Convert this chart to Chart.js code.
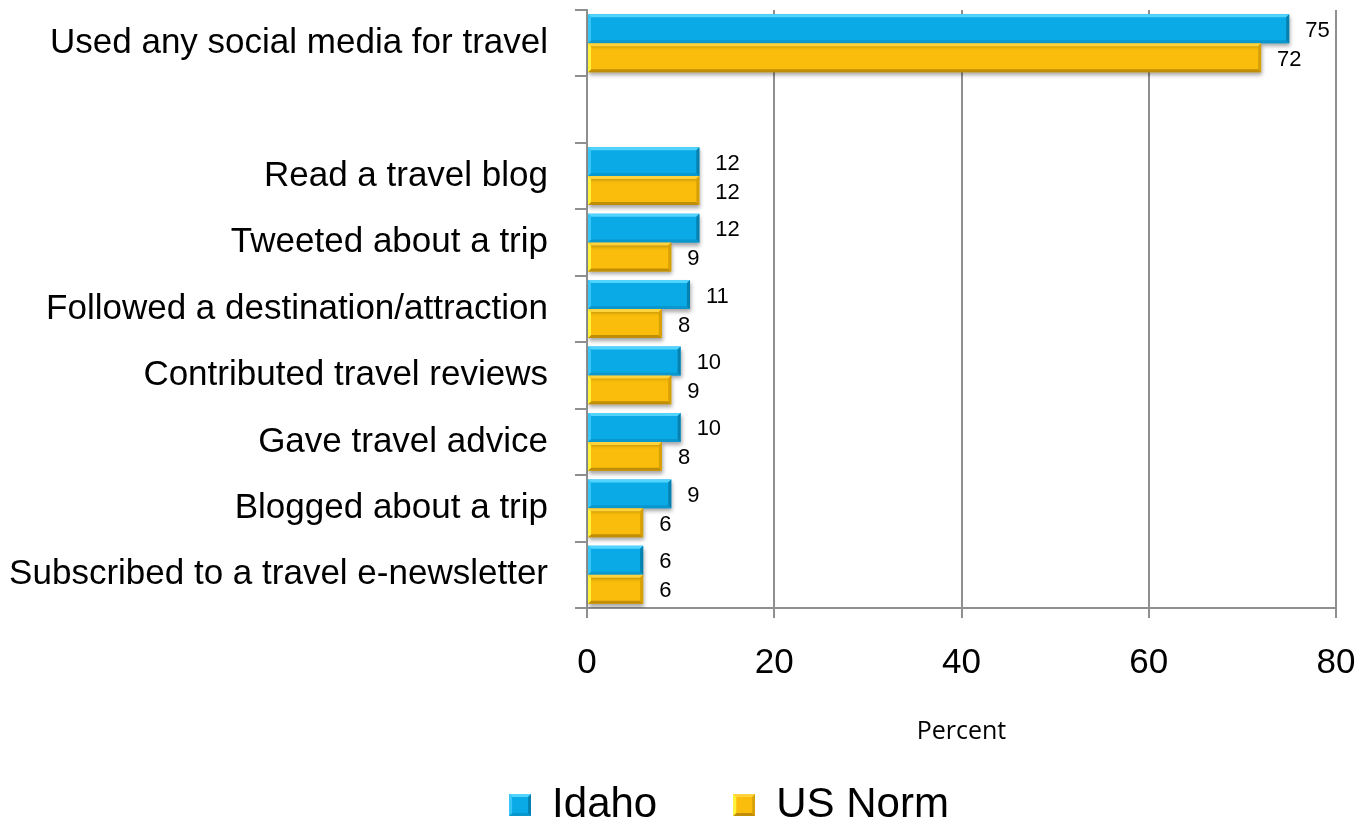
<!DOCTYPE html>
<html>
<head>
<meta charset="utf-8">
<title>Social media use for travel</title>
<script src="https://cdn.jsdelivr.net/npm/chart.js@4/dist/chart.umd.min.js"></script>
<style>
  html, body { margin: 0; padding: 0; background: #ffffff; }
  #wrap { width: 1364px; height: 826px; }
</style>
</head>
<body>
<div id="wrap"><canvas id="chart" width="1364" height="826"></canvas></div>
<script>
// Survey categories (the empty entry leaves a gap under the headline row)
const categories = [
  'Used any social media for travel',
  '',
  'Read a travel blog',
  'Tweeted about a trip',
  'Followed a destination/attraction',
  'Contributed travel reviews',
  'Gave travel advice',
  'Blogged about a trip',
  'Subscribed to a travel e-newsletter'
];
const idahoValues  = [75, null, 12, 12, 11, 10, 10, 9, 6];
const usNormValues = [72, null, 12,  9,  8,  9,  8, 6, 6];
const seriesNames  = ['Idaho', 'US Norm'];
const percentTicks = [0, 20, 40, 60, 80];

const FONT = "'Liberation Sans', Arial, sans-serif";
const GRID = '#8f8f8f';

// Bevel shades per series
const shades = [
  { body: '#0AAAE6', top: '#52D4FF', left: '#38C6F6', right: '#0680AF', bottom: '#0A97CE' },
  { body: '#FABD0B', top: '#FFD33C', left: '#FFF23A', right: '#D6A006', bottom: '#BF8D06' }
];

function poly(ctx, color, pts) {
  ctx.fillStyle = color;
  ctx.beginPath();
  ctx.moveTo(pts[0][0], pts[0][1]);
  for (let i = 1; i < pts.length; i++) ctx.lineTo(pts[i][0], pts[i][1]);
  ctx.closePath();
  ctx.fill();
}

function bevelEdges(ctx, l, t, r, b, c, bw) {
  poly(ctx, c.top,    [[l, t], [r, t], [r - bw, t + bw], [l + bw, t + bw]]);
  poly(ctx, c.bottom, [[l, b], [r, b], [r - bw, b - bw], [l + bw, b - bw]]);
  poly(ctx, c.left,   [[l, t], [l + bw, t + bw], [l + bw, b - bw], [l, b]]);
  poly(ctx, c.right,  [[r, t], [r - bw, t + bw], [r - bw, b - bw], [r, b]]);
}

// Small bevelled squares used as legend swatches
function makeSwatch(c) {
  const s = 22;
  const cv = document.createElement('canvas');
  cv.width = s; cv.height = s;
  const ctx = cv.getContext('2d');
  ctx.fillStyle = c.body;
  ctx.fillRect(0, 0, s, s);
  bevelEdges(ctx, 0, 0, s, s, c, 3);
  return cv;
}
const swatches = shades.map(makeSwatch);

// Soft drop shadow under the bars
const barShadow = {
  id: 'barShadow',
  beforeDatasetDraw(chart) {
    const ctx = chart.ctx;
    ctx.save();
    ctx.shadowColor = 'rgba(0,0,0,0.35)';
    ctx.shadowBlur = 4;
    ctx.shadowOffsetX = 1;
    ctx.shadowOffsetY = 3;
  },
  afterDatasetDraw(chart) {
    chart.ctx.restore();
  }
};

// Bevelled edges on each bar plus value labels past the bar ends
const barDecor = {
  id: 'barDecor',
  afterDatasetsDraw(chart) {
    const ctx = chart.ctx;
    ctx.save();
    chart.data.datasets.forEach((ds, di) => {
      const meta = chart.getDatasetMeta(di);
      meta.data.forEach((el, i) => {
        const v = ds.data[i];
        if (v === null || v === undefined) return;
        const p = el.getProps(['x', 'y', 'base', 'height'], true);
        const l = Math.min(p.base, p.x), r = Math.max(p.base, p.x);
        const t = p.y - p.height / 2, b = p.y + p.height / 2;
        bevelEdges(ctx, l, t, r, b, shades[di], 3);
        ctx.fillStyle = '#000000';
        ctx.font = '22px ' + FONT;
        ctx.textAlign = 'left';
        ctx.textBaseline = 'middle';
        ctx.fillText(String(v), r + 16, p.y + 2);
      });
    });
    ctx.restore();
  }
};

// Nudge the legend row rightwards so it sits under the plotted bars
const legendShift = {
  id: 'legendShift',
  afterLayout(chart) {
    const lg = chart.legend;
    if (!lg) return;
    lg.left += 61;
    lg.right += 61;
  }
};

new Chart(document.getElementById('chart'), {
  type: 'bar',
  data: {
    labels: categories,
    datasets: [
      { label: seriesNames[0], data: idahoValues,  backgroundColor: shades[0].body, borderWidth: 0 },
      { label: seriesNames[1], data: usNormValues, backgroundColor: shades[1].body, borderWidth: 0 }
    ]
  },
  options: {
    indexAxis: 'y',
    responsive: false,
    animation: false,
    devicePixelRatio: 1,
    categoryPercentage: 0.87,
    barPercentage: 1.0,
    layout: { padding: { top: 10, right: 28, bottom: 0, left: 0 } },
    scales: {
      x: {
        min: 0,
        max: 80,
        afterBuildTicks(scale) { scale.ticks = percentTicks.map(v => ({ value: v })); },
        afterFit(scale) {
          scale.height = 100;
          scale.paddingLeft = 0;
          scale.paddingRight = 0;
        },
        ticks: { color: '#000000', font: { family: FONT, size: 35 }, padding: 24 },
        grid: { color: GRID, lineWidth: 2, tickLength: 10, drawTicks: true },
        border: { display: true, color: GRID, width: 2 },
        title: {
          display: true,
          text: 'Percent',
          color: '#000000',
          font: { family: "'Open Sans', 'Noto Sans', sans-serif", size: 25 },
          padding: { top: 0, bottom: -39 }
        }
      },
      y: {
        afterFit(scale) {
          scale.width = 587;
          scale.paddingTop = 0;
          scale.paddingBottom = 0;
        },
        ticks: { color: '#000000', font: { family: FONT, size: 35 }, padding: 27, autoSkip: false },
        grid: { drawOnChartArea: false, drawTicks: true, tickLength: 12, color: GRID, lineWidth: 2, offset: true },
        border: { display: true, color: GRID, width: 2 }
      }
    },
    plugins: {
      tooltip: { enabled: false },
      legend: {
        position: 'bottom',
        maxHeight: 118,
        labels: {
          usePointStyle: true,
          boxWidth: 22,
          boxHeight: 22,
          padding: 76,
          color: '#000000',
          font: { family: FONT, size: 42 },
          generateLabels(chart) {
            const items = Chart.defaults.plugins.legend.labels.generateLabels(chart);
            items.forEach((it, i) => { it.pointStyle = swatches[i]; });
            return items;
          }
        }
      }
    }
  },
  plugins: [barShadow, barDecor, legendShift]
});
</script>
</body>
</html>
